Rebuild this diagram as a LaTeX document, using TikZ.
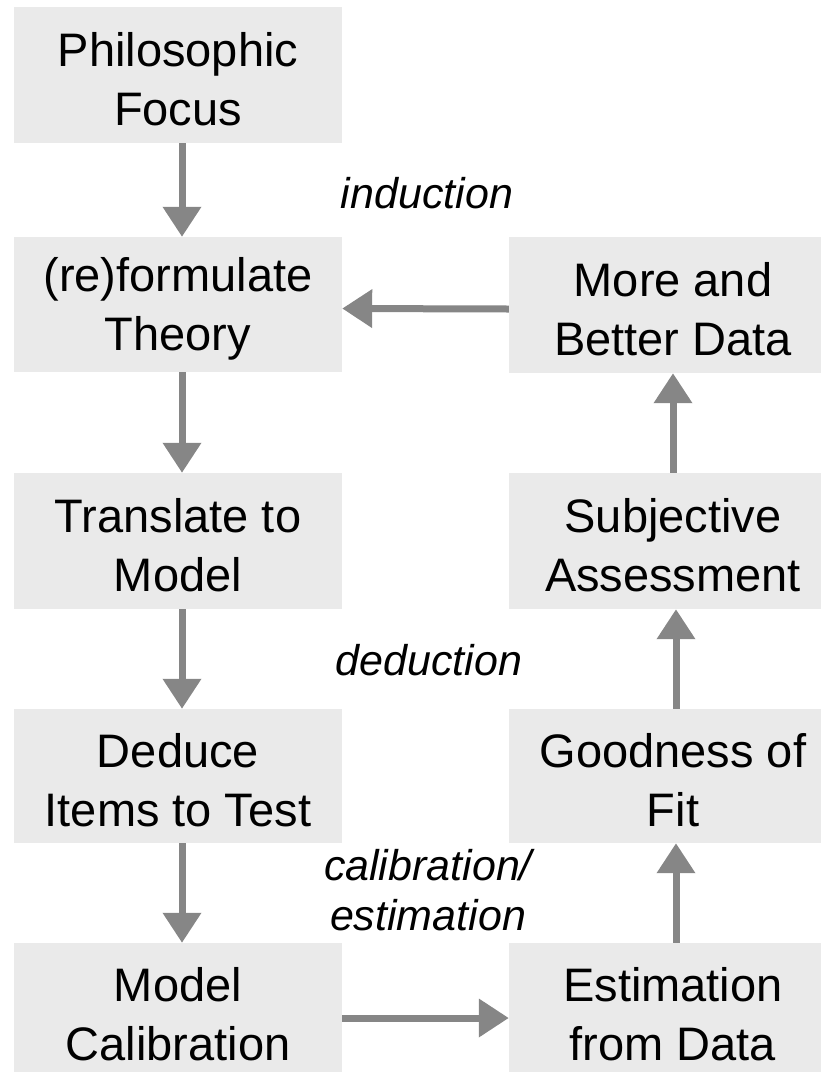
\documentclass[tikz,border=0pt]{standalone}
\usepackage{fontspec}
\setmainfont{Liberation Sans}
\usetikzlibrary{arrows.meta}
\definecolor{boxgray}{HTML}{EAEAEA}
\definecolor{arrgray}{HTML}{868686}
\newcommand\boxtopgap{\rule{0pt}{42pt}}
\begin{document}
\begin{tikzpicture}[x=1pt,y=-1pt,
  box/.style={fill=boxgray, minimum width=328pt, minimum height=136pt, inner sep=0pt, align=center, font=\fontsize{47}{59}\selectfont},
  lbl/.style={align=center, font=\fontsize{43}{50}\selectfont\itshape, inner sep=0pt},
  arr/.style={draw=arrgray, line width=7pt, -{Triangle[width=37pt,length=30pt]}}]
\useasboundingbox (0,0) rectangle (821,1072);
\clip (0,0) rectangle (821,1072);
\node[box] (phil) at (178,75) {\boxtopgap Philosophic\\Focus};
\node[box, minimum height=135pt] (theory) at (178,304.5) {\boxtopgap(re)formulate\\Theory};
\node[box] (trans) at (178,541) {\boxtopgap Translate to\\Model};
\node[box, minimum height=134pt] (deduce) at (178,776) {\boxtopgap Deduce\\Items to Test};
\node[box, minimum height=134pt] (calib) at (178,1010) {\boxtopgap Model\\Calibration};
\node[box] (more) at (673,305) {\boxtopgap More and\\Better Data};
\node[box] (subj) at (673,541) {\boxtopgap Subjective\\Assessment};
\node[box, minimum height=134pt] (good) at (673,776) {\boxtopgap Goodness of\\Fit};
\node[box, minimum height=134pt] (estim) at (673,1010) {\boxtopgap Estimation\\from Data};
\draw[arr] ([xshift=4pt]phil.south) -- ([xshift=4pt]theory.north);
\draw[arr] ([xshift=4pt]theory.south) -- ([xshift=4pt]trans.north);
\draw[arr] ([xshift=4pt]trans.south) -- ([xshift=4pt]deduce.north);
\draw[arr] ([xshift=4pt]deduce.south) -- ([xshift=4pt]calib.north);
\draw[arr] ([yshift=-8pt]calib.east) -- ([yshift=-8pt]estim.west);
\draw[arr] ([xshift=3pt]estim.north) -- ([xshift=3pt]good.south);
\draw[arr] ([xshift=3pt]good.north) -- ([xshift=3pt]subj.south);
\draw[arr] (subj.north) -- (more.south);
\draw[arr] ([yshift=-4pt]more.west) -- ([yshift=-4pt]theory.east);
\node[lbl, anchor=base] (ind) at (427,208) {induction};
\node[lbl, anchor=base] (ded) at (429,675) {deduction};
\node[lbl] (cal) at (428,890) {calibration/\\estimation};
\end{tikzpicture}
\end{document}
